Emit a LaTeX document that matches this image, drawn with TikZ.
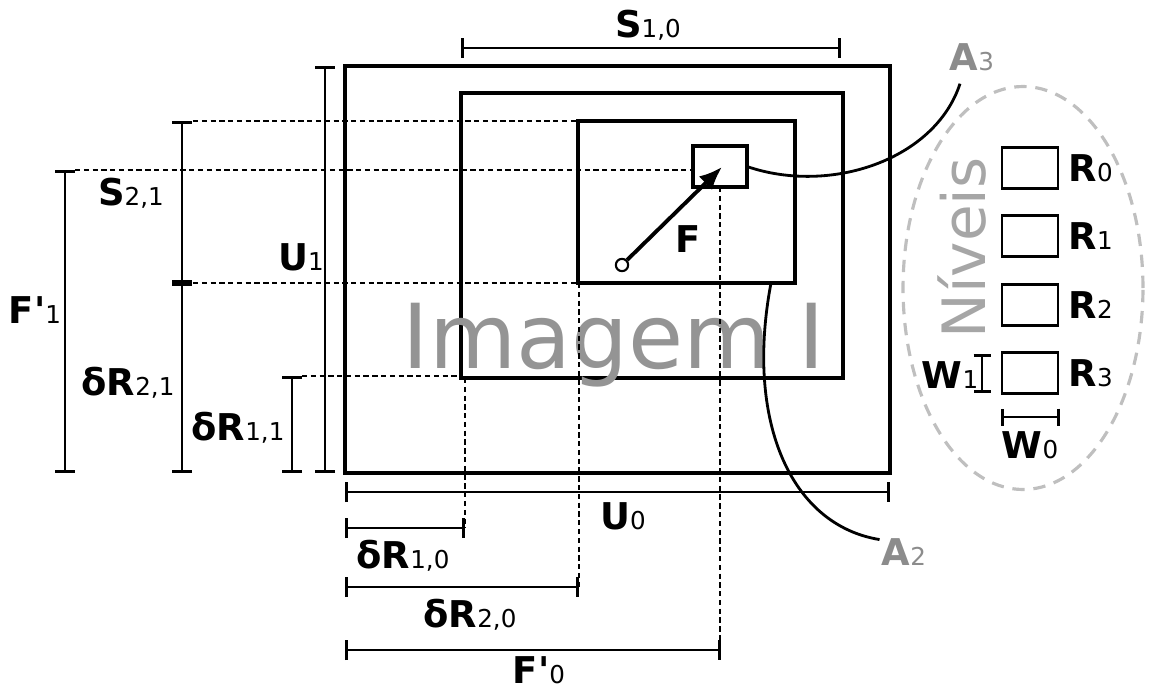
\documentclass[tikz,border=0pt]{standalone}
\usepackage{fontspec}
\setmainfont{DejaVu Sans}
\usetikzlibrary{positioning, arrows.meta, fit, shapes.geometric}

\newcommand\sym[2]{\textbf{#1}{\fontsize{14}{14}\selectfont #2}}
\newcommand\prm{\textbf{\textquotesingle}}

\begin{document}
\begin{tikzpicture}[
    x=0.02cm, y=-0.02cm,
    rectbox/.style={draw, line width=2pt, inner sep=0pt, outer sep=0pt},
    lvlbox/.style={draw, line width=1.6pt, minimum width=1.12cm,
                   minimum height=0.82cm, inner sep=0pt},
    dimline/.style={line width=1.5pt, {Bar[width=4mm]}-{Bar[width=4mm]}},
    smalldim/.style={line width=1.5pt, {Bar[width=3.4mm]}-{Bar[width=3.4mm]}},
    guide/.style={line width=0.7pt, dash pattern=on 3pt off 2pt},
    lbl/.style={font=\fontsize{21}{24}\selectfont, inner sep=0pt, anchor=base},
    graylbl/.style={lbl, text=black!45},
    lead/.style={line width=1.6pt},
]
\useasboundingbox (0,0) rectangle (1149,693);

% image and the three nested regions
\node[rectbox, fit={(345,66)(890,473)}]  (img) {};
\node[rectbox, fit={(461,93)(843,378)}]  (a1)  {};
\node[rectbox, fit={(578,121)(795,283)}] (a2)  {};
\node[rectbox, fit={(693,146)(747,187)}] (a3)  {};

\node[font=\fontsize{51}{51}\selectfont, text=black!42, anchor=base] (title) at (614,368) {Imagem I};

% fixation vector
\node[circle, draw, line width=1.2pt, fill=white, inner sep=0pt, minimum size=7pt] (f0) at (622,265) {};
\coordinate (f1) at (722,167);
\draw[line width=2.2pt, -{Latex[length=4.6mm, width=3.8mm]}] (f0) -- (f1);
\node[lbl] (F) at (688,252) {\textbf{F}};

% guide lines
\draw[guide] (193,121) -- (a2.north west);
\draw[guide] (75,170)  -- (693,170);
\draw[guide] (193,283) -- (a2.south west);
\draw[guide] (302,376) -- (461,376);
\draw[guide] (465,378) -- (465,528);
\draw[guide] (579,283) -- (579,587);
\draw[guide] (720,187) -- (720,650);

% dimension bars
\foreach \xa/\ya/\xb/\yb in {461/48/841/48, 345/492/890/492, 345/528/465/528,
                             345/587/579/587, 345/650/721/650,
                             65/170/65/473, 182/121/182/283, 182/283/182/473,
                             292/376/292/473, 325/66/325/473}
    \draw[dimline] (\xa,\ya) -- (\xb,\yb);

\node[lbl] (s10)  at (648,37)  {\sym{S}{1,0}};
\node[lbl] (s21)  at (131,205) {\sym{S}{2,1}};
\node[lbl] (u1)   at (301,270) {\sym{U}{1}};
\node[lbl] (fp1)  at (35,323)  {\sym{F\prm}{1}};
\node[lbl] (dr21) at (128,395) {\sym{δR}{2,1}};
\node[lbl] (dr11) at (238,440) {\sym{δR}{1,1}};
\node[lbl] (u0)   at (623,529) {\sym{U}{0}};
\node[lbl] (dr10) at (403,568) {\sym{δR}{1,0}};
\node[lbl] (dr20) at (470,627) {\sym{δR}{2,0}};
\node[lbl] (fp0)  at (539,683) {\sym{F\prm}{0}};

% callouts
\node[graylbl] (A3) at (972,70)  {\sym{A}{3}};
\node[graylbl] (A2) at (904,565) {\sym{A}{2}};
\draw[lead] (a3.east) .. controls (830,195) and (935,160) .. ([shift={(-12,13)}]A3.south);
\draw[lead] (771,283) .. controls (745,420) and (790,525) .. ([shift={(-2,-12)}]A2.west);

% levels legend
\node[draw=black!25, line width=1.8pt, dash pattern=on 7pt off 5pt,
      ellipse, minimum width=4.8cm, minimum height=8.06cm] (leg) at (1023,288) {};
\node[font=\fontsize{34}{34}\selectfont, text=black!35, rotate=90, anchor=base] (niv) at (985,248) {Níveis};
\foreach \i/\y in {0/168, 1/236, 2/305, 3/373} {
    \node[lvlbox] (r\i) at (1030,\y) {};
    \node[lbl, anchor=west] at ([xshift=0.18cm]r\i.east) {\sym{R}{\i}};
}
\draw[smalldim] (982,354) -- (982,393);
\draw[smalldim] (1001,417) -- (1060,417);
\node[lbl] (w1) at (950,388) {\sym{W}{1}};
\node[lbl] (w0) at (1030,458) {\sym{W}{0}};
\end{tikzpicture}
\end{document}
